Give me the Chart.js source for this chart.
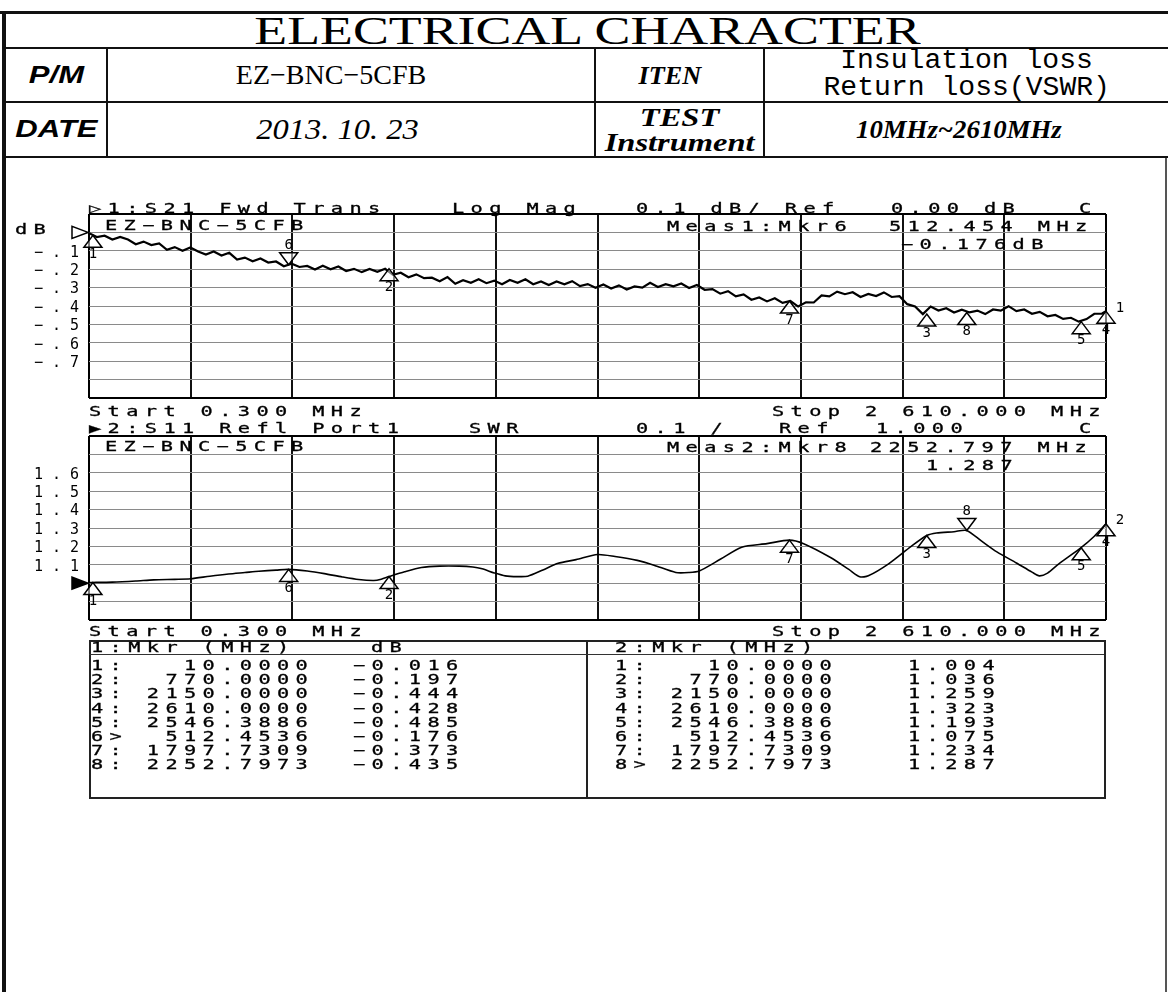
<!DOCTYPE html>
<html><head><meta charset="utf-8">
<script src="https://cdn.jsdelivr.net/npm/chart.js@4.4.0/dist/chart.umd.min.js"></script>
<style>
html,body{margin:0;padding:0;background:#fff;}
#page{position:relative;width:1168px;height:992px;overflow:hidden;background:#fff;}
.ln{position:absolute;background:#111;}
.t{position:absolute;white-space:pre;color:#000;}
.vna{font-family:"DejaVu Sans Mono",monospace;font-size:14px;line-height:14px;height:14px;letter-spacing:4.4px;transform:scaleX(1.45);transform-origin:0 50%;z-index:5;-webkit-text-stroke:0.3px #000;}
.cell{position:absolute;display:flex;align-items:center;justify-content:center;white-space:nowrap;color:#000;}
.cell span{display:inline-block;}
canvas{position:absolute;z-index:1;}
</style></head>
<body><div id="page">
<canvas id="c1" width="1134" height="210" style="left:34px;top:200px;"></canvas>
<canvas id="c2" width="1134" height="210" style="left:34px;top:422px;"></canvas>
</div>
<script>
// ---------- DATA ----------
// Trace 1: S21 Fwd Trans, Log Mag (dB) vs frequency (MHz)
const s21Freq = [0.3,20,40,60,80,100,120,140,160,180,200,220,240,260,280,300,320,340,360,380,400,420,440,460,480,500,520,540,560,580,600,620,640,660,680,700,720,740,760,780,800,820,840,860,880,900,920,940,960,980,1000,1020,1040,1060,1080,1100,1120,1140,1160,1180,1200,1220,1240,1260,1280,1300,1320,1340,1360,1380,1400,1420,1440,1460,1480,1500,1520,1540,1560,1580,1600,1620,1640,1660,1680,1700,1720,1740,1760,1780,1800,1820,1840,1860,1880,1900,1920,1940,1960,1980,2000,2020,2040,2060,2080,2100,2120,2140,2160,2180,2200,2220,2240,2260,2280,2300,2320,2340,2360,2380,2400,2420,2440,2460,2480,2500,2520,2540,2560,2580,2600,2610];
const s21Val = [-0.004,-0.025,-0.018,-0.039,-0.025,-0.039,-0.064,-0.050,-0.069,-0.060,-0.095,-0.080,-0.100,-0.082,-0.104,-0.120,-0.104,-0.126,-0.111,-0.148,-0.137,-0.157,-0.142,-0.164,-0.158,-0.184,-0.170,-0.188,-0.182,-0.202,-0.181,-0.200,-0.185,-0.210,-0.198,-0.216,-0.199,-0.214,-0.198,-0.230,-0.219,-0.244,-0.228,-0.249,-0.246,-0.265,-0.243,-0.279,-0.260,-0.274,-0.255,-0.276,-0.262,-0.282,-0.259,-0.274,-0.255,-0.282,-0.267,-0.286,-0.267,-0.282,-0.265,-0.292,-0.281,-0.301,-0.283,-0.305,-0.288,-0.310,-0.294,-0.300,-0.274,-0.297,-0.281,-0.293,-0.278,-0.302,-0.286,-0.312,-0.308,-0.333,-0.319,-0.348,-0.337,-0.366,-0.354,-0.375,-0.358,-0.383,-0.373,-0.403,-0.380,-0.381,-0.343,-0.348,-0.322,-0.336,-0.325,-0.351,-0.334,-0.346,-0.326,-0.351,-0.347,-0.390,-0.402,-0.444,-0.403,-0.425,-0.412,-0.435,-0.420,-0.435,-0.425,-0.444,-0.419,-0.425,-0.401,-0.428,-0.419,-0.442,-0.432,-0.456,-0.449,-0.470,-0.464,-0.485,-0.471,-0.442,-0.441,-0.428];

// Trace 2: S11 Refl Port1, SWR vs frequency (MHz)
const swrFreq = [0.3,10,60,120,166,220,261,310,358,400,436,480,512,560,604,650,692,731,750,770,810,853,900,950,985,1009,1040,1068,1100,1126,1165,1204,1250,1305,1350,1407,1450,1506,1540,1566,1620,1675,1740,1797,1834,1903,1950,1978,2000,2052,2110,2150,2175,2220,2252,2290,2330,2380,2420,2439,2460,2489,2546,2580,2610];
const swrVal = [1.004,1.004,1.006,1.012,1.018,1.021,1.024,1.038,1.050,1.058,1.065,1.071,1.075,1.066,1.052,1.034,1.020,1.015,1.022,1.036,1.062,1.085,1.093,1.093,1.088,1.078,1.056,1.040,1.036,1.038,1.072,1.108,1.128,1.156,1.145,1.124,1.098,1.058,1.058,1.066,1.130,1.196,1.215,1.234,1.215,1.140,1.075,1.035,1.040,1.105,1.200,1.259,1.273,1.280,1.287,1.230,1.170,1.110,1.060,1.040,1.055,1.105,1.193,1.255,1.323];

// Markers (MHz) and marker readouts
const mkrFreq = [10.0000, 770.0000, 2150.0000, 2610.0000, 2546.3886, 512.4536, 1797.7309, 2252.7973];
const mkrS21  = [-0.016, -0.197, -0.444, -0.428, -0.485, -0.176, -0.373, -0.435];
const mkrSWR  = [1.004, 1.036, 1.259, 1.323, 1.193, 1.075, 1.234, 1.287];
const activeS21 = 5;   // marker 6
const activeSWR = 7;   // marker 8

// Sweep / scale settings
const stopMHz = 2610, xDiv = 261;
const s21Ref = 0.00, s21Scale = 0.1, s21Min = -0.9, s21Max = 0.1;
const swrRef = 1.000, swrScale = 0.1, swrMin = 0.8, swrMax = 1.8;
const s21TickLabels = ['−.1','−.2','−.3','−.4','−.5','−.6','−.7'];
const swrTickLabels = ['1.1','1.2','1.3','1.4','1.5','1.6'];

// ---------- PAGE ----------
const page = document.getElementById('page');
function line(x,y,w,h,c){const d=document.createElement('div');d.className='ln';d.style.cssText=`left:${x}px;top:${y}px;width:${w}px;height:${h}px;`+(c?`background:${c};`:'');page.appendChild(d);}
function cell(x,y,w,h,html,style,sx){const d=document.createElement('div');d.className='cell';d.style.cssText=`left:${x}px;top:${y}px;width:${w}px;height:${h}px;${style}`;
  const parts=html.split('\n');
  if(parts.length>1){d.style.flexDirection='column';}
  d.innerHTML=parts.map(s=>`<span style="transform:scaleX(${sx||1});line-height:1.0">${s}</span>`).join('');
  page.appendChild(d);}
function vt(x,yc,text){const d=document.createElement('div');d.className='t vna';d.style.left=x+'px';d.style.top=(yc-7)+'px';d.textContent=text;page.appendChild(d);}

// frame
line(0,11,1168,3);
line(2,11,4,981);
line(1165,157,2,835,'#555');
line(4,47,1164,2);
line(4,101,1164,2);
line(4,156,1164,2);
line(106,47,2,110);
line(594,47,2,110);
line(763,47,2,110);

// header texts
cell(0,13,1168,35,'ELECTRICAL CHARACTER','font-family:"Liberation Serif",serif;font-size:39px;padding-left:6px;box-sizing:border-box;',1.38);
cell(6,49,100,52,'<i><b>P/M</b></i>','font-family:"Liberation Sans",sans-serif;font-size:23px;',1.35);
cell(6,103,100,53,'<i><b>DATE</b></i>','font-family:"Liberation Sans",sans-serif;font-size:23px;',1.35);
cell(108,49,486,52,'EZ−BNC−5CFB','font-family:"Liberation Serif",serif;font-size:28px;padding-right:40px;box-sizing:border-box;',1.0);
cell(108,103,486,53,'<i>2013. 10. 23</i>','font-family:"Liberation Serif",serif;font-size:29px;padding-right:28px;box-sizing:border-box;',1.12);
cell(596,49,167,52,'<i><b>ITEN</b></i>','font-family:"Liberation Serif",serif;font-size:25px;padding-right:20px;box-sizing:border-box;',1.05);
cell(596,103,167,53,'<i><b>TEST</b></i>\n<i><b>Instrument</b></i>','font-family:"Liberation Serif",serif;font-size:25px;',1.3);
cell(765,49,403,52,'Insulation loss\nReturn loss(VSWR)','font-family:"Liberation Mono",monospace;font-size:27px;',1.04);
cell(765,103,403,53,'<i><b>10MHz~2610MHz</b></i>','font-family:"Liberation Serif",serif;font-size:26px;padding-right:16px;box-sizing:border-box;',1.03);

// chart 1 annotation texts
vt(89,208,'▷1:S21 Fwd Trans'); vt(452,208,'Log Mag'); vt(636,208,'0.1 dB/ Ref'); vt(891,208,'0.00 dB'); vt(1079,208,'C');
vt(105,225,'EZ−BNC−5CFB');
vt(667,226,`Meas1:Mkr${activeS21+1}`); vt(889,226,mkrFreq[activeS21].toFixed(3)+' MHz'); vt(901,244,mkrS21[activeS21].toFixed(3).replace('-','−')+'dB');
vt(15,229,'dB');
vt(89,411,'Start 0.300 MHz'); vt(772,411,'Stop 2 610.000 MHz');
// chart 2 annotation texts
vt(89,428,'▶2:S11 Refl Port1'); vt(469,428,'SWR'); vt(636,428,'0.1 /'); vt(779,428,'Ref'); vt(876,428,swrRef.toFixed(3)); vt(1079,428,'C');
vt(105,446,'EZ−BNC−5CFB');
vt(667,447,`Meas2:Mkr${activeSWR+1}`); vt(870,447,mkrFreq[activeSWR].toFixed(3)+' MHz'); vt(926,465,mkrSWR[activeSWR].toFixed(3));
vt(89,631,'Start 0.300 MHz'); vt(772,631,'Stop 2 610.000 MHz');

// marker table
const tL=89, tR=1104, tT=640, tB=797, tMid=586;
line(tL,tT,tR-tL,2,'#222'); line(tL,tB,tR-tL,2,'#222'); line(tL,tT,2,tB-tT+2,'#222'); line(tR,tT,2,tB-tT+2,'#222'); line(tMid,tT,2,tB-tT,'#222');
line(tL,654,tR-tL,1,'#333');
vt(91,647,'1:Mkr (MHz)'); vt(371,647,'dB'); vt(615,647,'2:Mkr (MHz)');
mkrFreq.forEach((f,i)=>{
  const y = 665 + i*14.2;
  const fs = f.toFixed(4).padStart(9,' ');
  vt(91,y,`${i+1}${i===activeS21?'>':':'} ${fs}`);
  vt(353,y,mkrS21[i].toFixed(3).replace('-','−'));
  vt(615,y,`${i+1}${i===activeSWR?'>':':'} ${fs}`);
  vt(908,y,mkrSWR[i].toFixed(3));
});

// ---------- CHARTS ----------
const markerPlugin = {
  id:'mkr',
  afterDatasetsDraw(chart, args, o){
    const {ctx} = chart, x = chart.scales.x, y = chart.scales.y, a = chart.chartArea;
    ctx.save();
    ctx.lineWidth = 1.5; ctx.strokeStyle = '#000';
    ctx.font = '14px "DejaVu Sans Mono"'; ctx.textAlign='center'; ctx.textBaseline='middle';
    o.freqs.forEach((f,i)=>{
      const px = x.getPixelForValue(f), py = y.getPixelForValue(o.vals[i]);
      const dir = (i===o.active) ? -1 : 1, h = 12, w = 9;
      ctx.beginPath(); ctx.moveTo(px,py); ctx.lineTo(px-w,py+dir*h); ctx.lineTo(px+w,py+dir*h); ctx.closePath();
      ctx.fillStyle='rgba(255,255,255,0.5)'; ctx.fill(); ctx.stroke();
      ctx.fillStyle='#000';
      ctx.fillText(String(i+1), px, py+dir*(h+7));
    });
    // trace number beside stop-frequency marker
    const lp = x.getPixelForValue(o.freqs[3]), lq = y.getPixelForValue(o.vals[3]);
    ctx.fillText(o.trace, lp+14, lq-3);
    // reference level arrow
    const ry = y.getPixelForValue(o.ref);
    ctx.beginPath(); ctx.moveTo(a.left-1,ry); ctx.lineTo(a.left-17,ry-6); ctx.lineTo(a.left-17,ry+6); ctx.closePath();
    if(o.refFilled){ctx.fillStyle='#000';ctx.fill();} ctx.stroke();
    ctx.restore();
  }
};

function isEdge(c){ const v=c.tick?c.tick.value:null; const s=c.scale; return v!==null && (Math.abs(v-s.min)<1e-6 || Math.abs(v-s.max)<1e-6); }
function gridOpts(isX){
  return {
    drawTicks:false,
    color: c => isEdge(c) ? '#000' : (isX?'#111':'#8a8a8a'),
    lineWidth: c => isEdge(c) ? 2 : (isX?2:1)
  };
}

function makeChart(id, fx, fy, mn, mx, step, labelFn, mk, lw){
  return new Chart(document.getElementById(id), {
    type:'line',
    data:{datasets:[{data: fx.map((f,i)=>({x:f,y:fy[i]})), borderColor:'#000', borderWidth:lw, pointRadius:0, tension:mk.tension, fill:false}]},
    options:{
      responsive:false, animation:false, devicePixelRatio:1,
      layout:{padding:{top:14,bottom:12,left:0,right:62}},
      plugins:{legend:{display:false}, tooltip:{enabled:false}, mkr:mk},
      scales:{
        x:{type:'linear', min:0, max:stopMHz, ticks:{display:false, stepSize:xDiv, autoSkip:false}, grid:gridOpts(true), border:{display:false}, afterFit(s){s.height=0;}},
        y:{type:'linear', min:mn, max:mx, ticks:{stepSize:step, autoSkip:false, crossAlign:'far', labelOffset:2, padding:0, color:'#000', font:{family:'DejaVu Sans Mono', size:15}, callback:labelFn}, grid:gridOpts(false), border:{display:false}, afterFit(s){s.width=55;}}
      }
    },
    plugins:[markerPlugin]
  });
}

const spaced = s => s.split('').join(' ');
makeChart('c1', s21Freq, s21Val, s21Min, s21Max, s21Scale, v => {
  const n = Math.round(-v/s21Scale); return (n>=1 && n<=s21TickLabels.length) ? spaced(s21TickLabels[n-1]) : '';
}, {freqs:mkrFreq, vals:mkrS21, active:activeS21, trace:'1', ref:s21Ref, refFilled:false, tension:0}, 2.2);
makeChart('c2', swrFreq, swrVal, swrMin, swrMax, swrScale, v => {
  const n = Math.round((v-swrRef)/swrScale); return (n>=1 && n<=swrTickLabels.length) ? spaced(swrTickLabels[n-1]) : '';
}, {freqs:mkrFreq, vals:mkrSWR, active:activeSWR, trace:'2', ref:swrRef, refFilled:true, tension:0.25}, 1.6);
</script>
</body></html>
